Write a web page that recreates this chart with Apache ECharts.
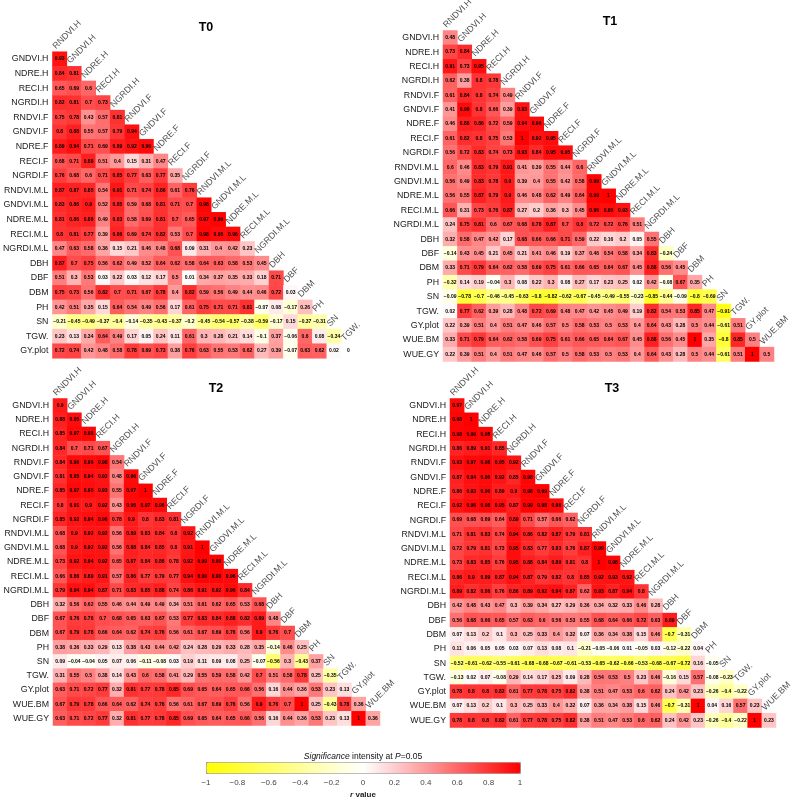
<!DOCTYPE html>
<html><head><meta charset="utf-8">
<script src="https://cdn.jsdelivr.net/npm/echarts@6/dist/echarts.min.js"></script>
<style>html,body{margin:0;padding:0;background:#fff}#c{width:799px;height:800px}</style>
</head><body><div id="c"></div>
<script>
const varsT0 = ['RNDVI.H','GNDVI.H','NDRE.H','RECI.H','NGRDI.H','RNDVI.F','GNDVI.F','NDRE.F','RECI.F','NGRDI.F','RNDVI.M.L','GNDVI.M.L','NDRE.M.L','RECI.M.L','NGRDI.M.L','DBH','DBF','DBM','PH','SN','TGW.','GY.plot'];
const varsFull = varsT0.concat(['WUE.BM','WUE.GY']);
const panelTitles = ['T0','T1','T2','T3'];

const t0 = [
 [0.93],
 [0.84,0.81],
 [0.65,0.69,0.6],
 [0.82,0.81,0.7,0.73],
 [0.75,0.78,0.43,0.57,0.81],
 [0.8,0.88,0.55,0.57,0.79,0.94],
 [0.89,0.94,0.71,0.69,0.89,0.92,0.96],
 [0.68,0.71,0.88,0.51,0.4,0.15,0.31,0.47],
 [0.76,0.68,0.6,0.71,0.85,0.77,0.63,0.77,0.35],
 [0.87,0.87,0.85,0.54,0.91,0.71,0.74,0.86,0.61,0.76],
 [0.83,0.86,0.9,0.52,0.85,0.59,0.68,0.81,0.71,0.7,0.98],
 [0.81,0.86,0.88,0.49,0.83,0.58,0.69,0.81,0.7,0.65,0.97,0.99],
 [0.8,0.81,0.77,0.39,0.86,0.69,0.74,0.82,0.53,0.7,0.98,0.95,0.96],
 [0.47,0.63,0.58,0.36,0.15,0.21,0.46,0.48,0.68,0.09,0.31,0.4,0.42,0.23],
 [0.87,0.7,0.75,0.56,0.62,0.49,0.52,0.64,0.62,0.58,0.64,0.63,0.58,0.53,0.45],
 [0.51,0.3,0.53,0.03,0.22,0.03,0.12,0.17,0.5,0.01,0.34,0.37,0.35,0.33,0.18,0.71],
 [0.75,0.73,0.56,0.82,0.7,0.71,0.67,0.78,0.4,0.82,0.59,0.56,0.49,0.44,0.46,0.72,0.03],
 [0.42,0.51,0.35,0.15,0.64,0.54,0.49,0.56,0.17,0.61,0.75,0.71,0.71,0.81,-0.07,0.08,-0.17,0.26],
 [-0.21,-0.45,-0.49,-0.37,-0.4,-0.14,-0.35,-0.43,-0.37,-0.2,-0.45,-0.54,-0.57,-0.38,-0.59,-0.17,0.15,-0.37,-0.31],
 [0.23,0.13,0.34,0.64,0.49,0.17,0.05,0.24,0.11,0.61,0.3,0.28,0.21,0.14,-0.1,0.37,-0.06,0.6,0.08,-0.34],
 [0.72,0.74,0.42,0.48,0.58,0.78,0.69,0.73,0.38,0.76,0.63,0.55,0.53,0.62,0.27,0.39,-0.07,0.63,0.62,0.02,0]
];
const t1 = [
 [0.48],
 [0.73,0.84],
 [0.91,0.73,0.95],
 [0.62,0.38,0.8,0.78],
 [0.61,0.84,0.8,0.74,0.49],
 [0.41,0.96,0.8,0.66,0.39,0.93],
 [0.46,0.88,0.86,0.72,0.59,0.94,0.96],
 [0.61,0.82,0.8,0.75,0.53,1,0.92,0.95],
 [0.56,0.72,0.83,0.74,0.73,0.93,0.84,0.95,0.95],
 [0.6,0.46,0.83,0.79,0.91,0.41,0.39,0.55,0.44,0.6],
 [0.56,0.49,0.83,0.78,0.9,0.39,0.4,0.55,0.42,0.58,0.99],
 [0.56,0.55,0.87,0.79,0.9,0.46,0.48,0.62,0.49,0.64,0.99,1],
 [0.66,0.31,0.73,0.76,0.87,0.27,0.2,0.36,0.3,0.45,0.96,0.95,0.93],
 [0.24,0.75,0.81,0.6,0.67,0.68,0.78,0.87,0.7,0.8,0.72,0.72,0.76,0.51],
 [0.32,0.58,0.47,0.42,0.17,0.68,0.66,0.66,0.71,0.59,0.22,0.16,0.2,0.05,0.55],
 [-0.14,0.43,0.45,0.21,0.45,0.21,0.41,0.46,0.19,0.37,0.46,0.54,0.58,0.34,0.83,-0.24],
 [0.33,0.71,0.79,0.64,0.62,0.58,0.69,0.75,0.61,0.66,0.65,0.64,0.67,0.45,0.88,0.56,0.45],
 [-0.32,0.14,0.19,-0.04,0.3,0.08,0.22,0.3,0.08,0.27,0.17,0.23,0.25,0.02,0.42,-0.08,0.67,0.35],
 [-0.09,-0.78,-0.7,-0.46,-0.45,-0.63,-0.8,-0.82,-0.62,-0.67,-0.45,-0.49,-0.55,-0.23,-0.85,-0.44,-0.09,-0.8,-0.69],
 [0.02,0.77,0.62,0.39,0.28,0.48,0.72,0.69,0.48,0.47,0.42,0.45,0.49,0.19,0.82,0.54,0.53,0.85,0.47,-0.91],
 [0.22,0.39,0.51,0.4,0.51,0.47,0.46,0.57,0.5,0.58,0.53,0.5,0.53,0.4,0.64,0.43,0.28,0.5,0.44,-0.61,0.51],
 [0.33,0.71,0.79,0.64,0.62,0.58,0.69,0.75,0.61,0.66,0.65,0.64,0.67,0.45,0.88,0.56,0.45,1,0.35,-0.8,0.85,0.5],
 [0.22,0.39,0.51,0.4,0.51,0.47,0.46,0.57,0.5,0.58,0.53,0.5,0.53,0.4,0.64,0.43,0.28,0.5,0.44,-0.61,0.51,1,0.5]
];
const t2 = [
 [0.9],
 [0.88,0.95],
 [0.85,0.97,0.98],
 [0.84,0.7,0.71,0.67],
 [0.84,0.96,0.96,0.98,0.54],
 [0.81,0.95,0.94,0.92,0.48,0.96],
 [0.85,0.97,0.95,0.93,0.55,0.97,1],
 [0.8,0.91,0.9,0.92,0.43,0.96,0.97,0.96],
 [0.85,0.92,0.94,0.96,0.78,0.9,0.8,0.83,0.81],
 [0.68,0.9,0.92,0.92,0.56,0.89,0.83,0.84,0.8,0.92],
 [0.68,0.9,0.92,0.92,0.56,0.88,0.84,0.85,0.8,0.91,1],
 [0.73,0.92,0.94,0.92,0.65,0.87,0.84,0.86,0.78,0.92,0.99,0.99],
 [0.66,0.86,0.89,0.91,0.57,0.86,0.77,0.79,0.77,0.94,0.99,0.98,0.96],
 [0.79,0.94,0.94,0.87,0.71,0.83,0.85,0.88,0.74,0.86,0.91,0.92,0.96,0.84],
 [0.32,0.56,0.62,0.55,0.46,0.44,0.49,0.49,0.34,0.51,0.61,0.62,0.65,0.53,0.68],
 [0.67,0.76,0.76,0.7,0.68,0.65,0.63,0.67,0.53,0.77,0.83,0.84,0.88,0.82,0.89,0.48],
 [0.67,0.79,0.78,0.66,0.64,0.62,0.74,0.76,0.56,0.61,0.67,0.69,0.76,0.56,0.9,0.76,0.7],
 [0.38,0.36,0.33,0.29,0.13,0.38,0.43,0.44,0.42,0.24,0.28,0.29,0.33,0.28,0.35,-0.14,0.46,0.25],
 [0.09,-0.04,-0.04,0.05,0.07,0.06,-0.11,-0.08,0.03,0.19,0.11,0.09,0.08,0.25,-0.07,-0.56,0.3,-0.43,0.37],
 [0.31,0.55,0.5,0.38,0.14,0.43,0.6,0.58,0.41,0.29,0.55,0.59,0.58,0.42,0.7,0.51,0.58,0.78,0.25,-0.35],
 [0.63,0.71,0.72,0.77,0.32,0.81,0.77,0.78,0.85,0.69,0.65,0.64,0.65,0.66,0.56,0.16,0.44,0.36,0.53,0.23,0.13],
 [0.67,0.79,0.78,0.66,0.64,0.62,0.74,0.76,0.56,0.61,0.67,0.69,0.76,0.56,0.9,0.76,0.7,1,0.25,-0.43,0.78,0.36],
 [0.63,0.71,0.72,0.77,0.32,0.81,0.77,0.78,0.85,0.69,0.65,0.64,0.65,0.66,0.56,0.16,0.44,0.36,0.53,0.23,0.13,1,0.36]
];
const t3 = [
 [0.97],
 [0.98,1],
 [0.98,0.99,0.98],
 [0.86,0.89,0.91,0.85],
 [0.93,0.97,0.98,0.95,0.92],
 [0.87,0.94,0.96,0.92,0.85,0.98],
 [0.86,0.93,0.96,0.89,0.9,0.98,0.99],
 [0.92,0.96,0.98,0.95,0.87,0.99,0.98,0.96],
 [0.69,0.68,0.69,0.64,0.89,0.71,0.57,0.66,0.62],
 [0.71,0.81,0.83,0.74,0.94,0.86,0.82,0.87,0.79,0.81],
 [0.72,0.79,0.81,0.73,0.95,0.83,0.77,0.83,0.76,0.87,0.99],
 [0.73,0.83,0.85,0.76,0.95,0.88,0.84,0.89,0.81,0.8,1,0.98],
 [0.86,0.9,0.89,0.87,0.94,0.87,0.79,0.82,0.8,0.85,0.92,0.93,0.92],
 [0.89,0.82,0.86,0.76,0.86,0.89,0.92,0.94,0.87,0.62,0.93,0.87,0.94,0.8],
 [0.42,0.48,0.43,0.47,0.3,0.39,0.34,0.27,0.29,0.36,0.34,0.32,0.33,0.46,0.28],
 [0.56,0.68,0.66,0.65,0.57,0.63,0.6,0.56,0.53,0.55,0.68,0.64,0.66,0.72,0.63,0.89],
 [0.07,0.13,0.2,0.1,0.3,0.25,0.33,0.4,0.32,0.07,0.36,0.34,0.38,0.15,0.46,-0.7,-0.31],
 [0.11,0.06,0.05,0.05,0.03,0.07,0.13,0.08,0.1,-0.21,-0.05,-0.06,0.01,-0.05,0.03,-0.12,-0.22,0.04],
 [-0.52,-0.61,-0.62,-0.55,-0.61,-0.68,-0.68,-0.67,-0.61,-0.53,-0.65,-0.62,-0.66,-0.53,-0.68,-0.67,-0.72,0.16,-0.05],
 [-0.13,0.02,0.07,-0.08,0.29,0.14,0.17,0.25,0.09,0.28,0.54,0.53,0.5,0.23,0.46,-0.16,0.15,0.57,-0.08,-0.23],
 [0.78,0.8,0.8,0.82,0.61,0.77,0.78,0.75,0.82,0.38,0.51,0.47,0.53,0.6,0.62,0.24,0.42,0.23,-0.26,-0.4,-0.22],
 [0.07,0.13,0.2,0.1,0.3,0.25,0.33,0.4,0.32,0.07,0.36,0.34,0.38,0.15,0.46,-0.7,-0.31,1,0.04,0.16,0.57,0.23],
 [0.78,0.8,0.8,0.82,0.61,0.77,0.78,0.75,0.82,0.38,0.51,0.47,0.53,0.6,0.62,0.24,0.42,0.23,-0.26,-0.4,-0.22,1,0.23]
];
const colorbarTicks = [-1,-0.8,-0.6,-0.4,-0.2,0,0.2,0.4,0.6,0.8,1];

const FONT = 'Liberation Sans, Arial, sans-serif';
function hasFont(name) {
  const c = document.createElement('canvas').getContext('2d');
  c.font = '20px monospace';
  const a = c.measureText('NGRDI.M.L wxyz').width;
  c.font = '20px "' + name + '", monospace';
  return Math.abs(c.measureText('NGRDI.M.L wxyz').width - a) > 0.5;
}
const narrowOK = hasFont('Liberation Sans Narrow');
const LBL_FONT = narrowOK ? '"Liberation Sans Narrow", Arial, sans-serif' : FONT;
const LBL_SIZE = narrowOK ? 10 : 8.8;
const fmt = v => String(v).replace('-', '\u2212');

const panels = [
  {vars: varsT0, rows: t0, box: {l: 49, t: 51.7, w: 306.6, h: 306.6}, title: [206, 28]},
  {vars: varsFull, rows: t1, box: {l: 443, t: 30.5, w: 331, h: 331}, title: [610, 22]},
  {vars: varsFull, rows: t2, box: {l: 53, t: 398.5, w: 327, h: 327}, title: [216, 389]},
  {vars: varsFull, rows: t3, box: {l: 450, t: 398.5, w: 326, h: 329}, title: [612, 389]}
];

const grid = [], xAxis = [], yAxis = [], series = [], graphic = [];
const heatIdx = [];
panels.forEach((p, i) => {
  const xc = p.vars.slice(0, -1), yc = p.vars.slice(1);
  const cw = p.box.w / xc.length, ch = p.box.h / yc.length;
  grid.push({left: p.box.l, top: p.box.t, width: p.box.w, height: p.box.h, containLabel: false});
  xAxis.push({type: 'category', gridIndex: i, data: xc, show: false});
  yAxis.push({type: 'category', gridIndex: i, data: yc, inverse: true,
    axisLine: {show: false}, axisTick: {show: false}, splitLine: {show: false},
    axisLabel: {interval: 0, fontSize: LBL_SIZE, color: '#1a1a1a', margin: 4, fontFamily: LBL_FONT}});
  const data = [];
  p.rows.forEach((row, r) => row.forEach((v, c) => data.push([c, r, v])));
  heatIdx.push(series.length);
  series.push({type: 'heatmap', xAxisIndex: i, yAxisIndex: i, data,
    itemStyle: {borderWidth: 0},
    emphasis: {disabled: true},
    label: {show: true, fontSize: 5, fontWeight: 'bold', color: '#000', fontFamily: FONT,
      formatter: q => fmt(q.value[2])}});
  series.push({type: 'scatter', xAxisIndex: i, yAxisIndex: i, silent: true,
    symbol: 'rect', symbolSize: [cw, ch], itemStyle: {color: 'rgba(0,0,0,0)'},
    data: xc.map((name, j) => [j, j, name]),
    label: {show: true, formatter: q => q.value[2], position: [5, -1], rotate: 45,
      align: 'left', verticalAlign: 'bottom', fontSize: LBL_SIZE, color: '#1a1a1a', fontFamily: LBL_FONT}});
  graphic.push({type: 'text', x: p.title[0], y: p.title[1],
    style: {text: panelTitles[i], font: 'bold 12.5px ' + FONT, fill: '#000', align: 'center', verticalAlign: 'middle'}});
});

// colorbar axis
grid.push({left: 206, top: 762, width: 314, height: 11});
xAxis.push({type: 'value', gridIndex: 4, min: -1, max: 1, interval: 0.2, position: 'bottom',
  axisLine: {show: false}, splitLine: {show: false},
  axisTick: {show: true, length: 4, lineStyle: {color: '#888'}},
  axisLabel: {fontSize: 8, color: '#444', margin: 12, fontFamily: FONT,
    formatter: v => fmt(Math.round(v * 10) / 10)},
  name: '{i|r} value', nameLocation: 'middle', nameGap: 24,
  nameTextStyle: {fontSize: 8, fontWeight: 'bold', color: '#222', fontFamily: FONT,
    rich: {i: {fontStyle: 'italic', fontWeight: 'bold', fontSize: 8, fontFamily: FONT}}}});
yAxis.push({type: 'value', gridIndex: 4, show: false, min: 0, max: 1});
series.push({type: 'scatter', xAxisIndex: 4, yAxisIndex: 4, data: colorbarTicks.map(v => [v, -5]), symbolSize: 0, silent: true});

graphic.push({type: 'text', x: 363, y: 757,
  style: {text: '{i|Significance} intensity at {i|P}=0.05', fontSize: 8.5, fontFamily: FONT, fill: '#111',
    align: 'center', verticalAlign: 'middle',
    rich: {i: {fontStyle: 'italic', fontSize: 8.5, fontFamily: FONT, fill: '#111'}}}});

const chart = echarts.init(document.getElementById('c'), null, {renderer: 'canvas'});
chart.setOption({
  animation: false,
  backgroundColor: '#fff',
  textStyle: {fontFamily: FONT},
  grid, xAxis, yAxis, series, graphic,
  visualMap: {type: 'continuous', min: -1, max: 1, seriesIndex: heatIdx, orient: 'horizontal',
    left: 206, top: 762, itemWidth: 11, itemHeight: 314, calculable: false, text: null,
    padding: 0, hoverLink: false, borderColor: '#999', borderWidth: 1,
    inRange: {color: ['#ffff00', '#ffffff', '#ff0000']}}
});
</script></body></html>
